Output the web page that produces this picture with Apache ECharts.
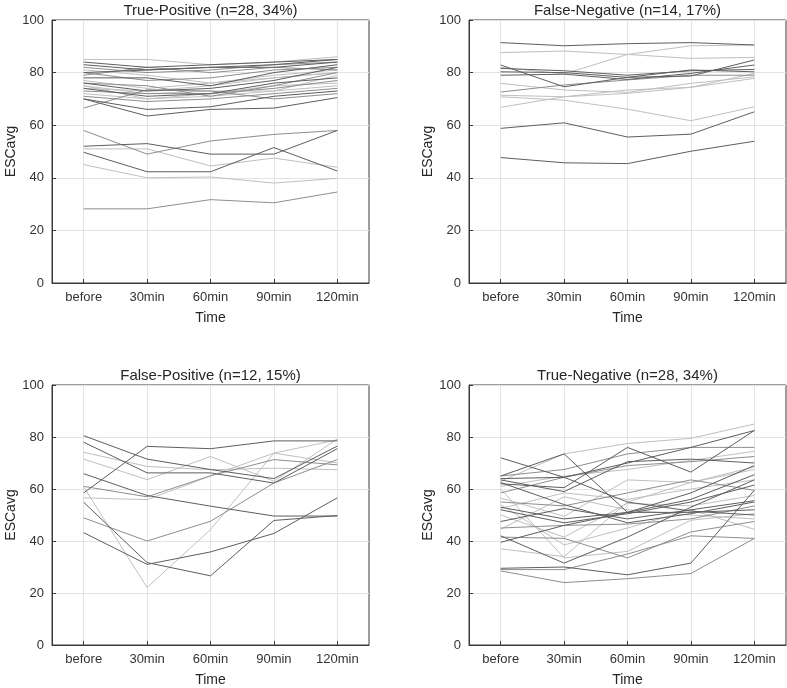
<!DOCTYPE html>
<html>
<head>
<meta charset="utf-8">
<script src="https://cdn.jsdelivr.net/npm/echarts@6/dist/echarts.min.js"></script>
<style>html,body{margin:0;padding:0;background:#fff}#c{width:787px;height:688px}</style>
</head>
<body>
<div id="c"></div>
<script>
const categories = ['before', '30min', '60min', '90min', '120min'];
const panelTitles = ['True-Positive (n=28, 34%)', 'False-Negative (n=14, 17%)', 'False-Positive (n=12, 15%)', 'True-Negative (n=28, 34%)'];
const yTickValues = [0, 20, 40, 60, 80, 100];

const truePositive = [
  [85, 85, 83, 84, 86],
  [84, 82, 83, 84, 85],
  [83, 81, 82, 83, 85],
  [82, 80, 81, 83, 84],
  [80, 81, 82, 82, 84],
  [80, 77, 78, 81, 82],
  [78, 78, 75, 80, 83],
  [77, 74, 76, 79, 81],
  [76, 73, 74, 77, 82],
  [76, 75, 71, 75, 80],
  [75, 72, 73, 73, 79],
  [74, 71, 72, 76, 78],
  [74, 73, 75, 78, 80],
  [73, 72, 72, 74, 77],
  [72, 70, 72, 75, 76],
  [71, 69, 70, 72, 74],
  [70, 66, 67, 71, 73],
  [70, 63.5, 66, 66.5, 70.5],
  [66.5, 73.5, 73, 70, 72],
  [81, 79, 76, 78, 80],
  [75, 70, 71, 73, 75],
  [79, 82, 80, 82, 81],
  [58, 49, 54, 56.5, 58],
  [52, 53, 49, 49, 58],
  [49.7, 42.3, 42.3, 51.5, 42.6],
  [51, 51, 44.5, 47.5, 44],
  [45, 40, 40.3, 38, 39.8],
  [28.2, 28.2, 31.7, 30.5, 34.6]
];
const truePositiveTone = ['l','d','d','m','d','m','d','l','d','m','l','d','l','m','l','m','d','d','m','l','l','m','m','d','d','l','l','m'];

const falseNegative = [
  [91.4, 90.2, 91, 91.4, 90.5],
  [87.6, 88.2, 86.9, 85.4, 85.8],
  [82, 79.5, 86.9, 90.2, 90.5],
  [82.9, 74.6, 78.2, 78.7, 84.8],
  [81.6, 80.7, 79, 80.7, 81.2],
  [80.3, 80, 78.2, 81, 80.3],
  [79, 79.4, 77.4, 79.7, 82.9],
  [72.6, 75.3, 77.2, 79, 79],
  [75.9, 73.4, 72.5, 75.9, 78.4],
  [71.4, 70.8, 72.1, 74.4, 79.7],
  [66.8, 70.8, 73.4, 74.4, 77.8],
  [70.8, 69.5, 66.1, 61.7, 67],
  [58.8, 60.9, 55.5, 56.6, 65.1],
  [47.7, 45.7, 45.4, 50.1, 53.9]
];
const falseNegativeTone = ['d','l','l','d','d','d','d','m','l','l','l','l','d','d'];

const falsePositive = [
  [80.5, 71.5, 67.5, 64, 76.5],
  [78, 66.2, 66.2, 62.3, 75.5],
  [74.1, 68.7, 67.4, 68, 67.4],
  [71.5, 63.6, 72.5, 63, 79.2],
  [58.5, 76.4, 75.5, 78.5, 78.5],
  [65.9, 57.5, 53.4, 49.6, 49.6],
  [61, 57, 65.1, 71.3, 69.3],
  [56.6, 55.9, 65, 73.8, 78.9],
  [60.8, 22.1, 44.4, 73.8, 70],
  [54.9, 31.7, 26.6, 47.9, 49.8],
  [43.2, 31, 35.8, 42.9, 56.6],
  [48.9, 40, 47.6, 62.3, 71.3]
];
const falsePositiveTone = ['d','d','l','l','d','d','m','l','l','d','d','m'];

const trueNegative = [
  [63, 73.5, 77.5, 79.5, 85],
  [64, 64.5, 70, 76, 82.5],
  [65, 73.5, 51, 51, 52],
  [62, 60.5, 76, 66.5, 82.5],
  [72, 64.5, 55, 51.5, 50],
  [65, 67.5, 73.5, 76, 76],
  [63.5, 59, 70.5, 71.5, 70],
  [61, 65, 67.5, 71, 74.5],
  [58.5, 64.5, 69, 70.5, 72.5],
  [56.5, 49.5, 63.5, 62.5, 68.5],
  [55, 53.5, 58.5, 63.5, 59.5],
  [53, 48.5, 51, 58.5, 69],
  [52, 47, 50.5, 55, 61.5],
  [50, 41.5, 54.5, 53.5, 57.5],
  [47.5, 52.5, 48.5, 52, 55.5],
  [45, 46, 46.5, 48.5, 53.5],
  [44.5, 57, 52, 50, 48.5],
  [42, 31.5, 41.5, 53, 63.5],
  [39.5, 46, 51, 56, 65.5],
  [37, 34, 55, 62.5, 67.5],
  [54, 38.5, 45, 52, 44.5],
  [41.5, 41, 33.5, 43.5, 47.5],
  [29.5, 30, 27, 31.5, 59.5],
  [29, 29, 35, 42, 41],
  [28.5, 24, 25.5, 27.5, 41],
  [60, 33.5, 36, 48, 50.5],
  [62.5, 54, 47, 50.5, 55],
  [52.5, 58.5, 56, 60, 63.5]
];
const trueNegativeTone = ['l','d','d','d','d','m','d','l','m','l','m','d','d','l','d','m','l','d','d','l','l','m','d','m','m','l','d','l'];

const panels = [
  { values: truePositive, tone: truePositiveTone },
  { values: falseNegative, tone: falseNegativeTone },
  { values: falsePositive, tone: falsePositiveTone },
  { values: trueNegative, tone: trueNegativeTone }
];

const toneColor = { d: '#5e5e5e', m: '#8e8e8e', l: '#c0c0c0' };
const gridBoxes = [
  { left: 52, top: 20, width: 317, height: 263 },
  { left: 469, top: 20, width: 317, height: 263 },
  { left: 52, top: 385, width: 317, height: 261 },
  { left: 469, top: 385, width: 317, height: 261 }
];
const FONT = 'Liberation Sans, Arial, Helvetica, sans-serif';

const grid = [], xAxis = [], yAxis = [], series = [], title = [];
gridBoxes.forEach((g, i) => {
  grid.push(Object.assign({ show: true, borderColor: '#3a3a3a', borderWidth: 1, backgroundColor: 'transparent', containLabel: false }, g));
  title.push({
    text: panelTitles[i],
    left: g.left + g.width / 2,
    top: g.top - 17,
    textAlign: 'center',
    padding: 0,
    textStyle: { fontFamily: FONT, fontSize: 15, fontWeight: 'normal', color: '#262626' }
  });
  xAxis.push({
    type: 'category', gridIndex: i, data: categories, boundaryGap: true,
    name: 'Time', nameLocation: 'middle', nameGap: 28,
    nameTextStyle: { fontFamily: FONT, fontSize: 14, color: '#262626' },
    axisLine: { show: true, lineStyle: { color: '#3a3a3a', width: 1 } },
    axisTick: { show: true, inside: true, alignWithLabel: true, length: 4, lineStyle: { color: '#3a3a3a' } },
    axisLabel: { fontFamily: FONT, fontSize: 13, color: '#333', margin: 8, interval: 0 },
    splitLine: { show: true, alignWithLabel: true, lineStyle: { color: '#e3e3e3', width: 1 } }
  });
  yAxis.push({
    type: 'value', gridIndex: i, min: yTickValues[0], max: yTickValues[yTickValues.length - 1], interval: 20,
    name: 'ESCavg', nameLocation: 'middle', nameGap: 21, nameRotate: 90,
    nameTextStyle: { fontFamily: FONT, fontSize: 14, color: '#262626' },
    axisLine: { show: true, lineStyle: { color: '#3a3a3a', width: 1 } },
    axisTick: { show: true, inside: true, length: 4, lineStyle: { color: '#3a3a3a' } },
    axisLabel: { fontFamily: FONT, fontSize: 13, color: '#333', margin: 8 },
    splitLine: { show: true, lineStyle: { color: '#e3e3e3', width: 1 } }
  });
  const p = panels[i];
  p.values.forEach((vals, k) => {
    series.push({
      type: 'line', xAxisIndex: i, yAxisIndex: i, data: vals,
      symbol: 'none', silent: true, animation: false,
      lineStyle: { color: toneColor[p.tone[k]], width: 1 },
      z: p.tone[k] === 'd' ? 4 : (p.tone[k] === 'm' ? 3 : 2)
    });
  });
});

const chart = echarts.init(document.getElementById('c'), null, { renderer: 'canvas' });
chart.setOption({ animation: false, backgroundColor: '#fff', title, grid, xAxis, yAxis, series });
</script>
</body>
</html>
